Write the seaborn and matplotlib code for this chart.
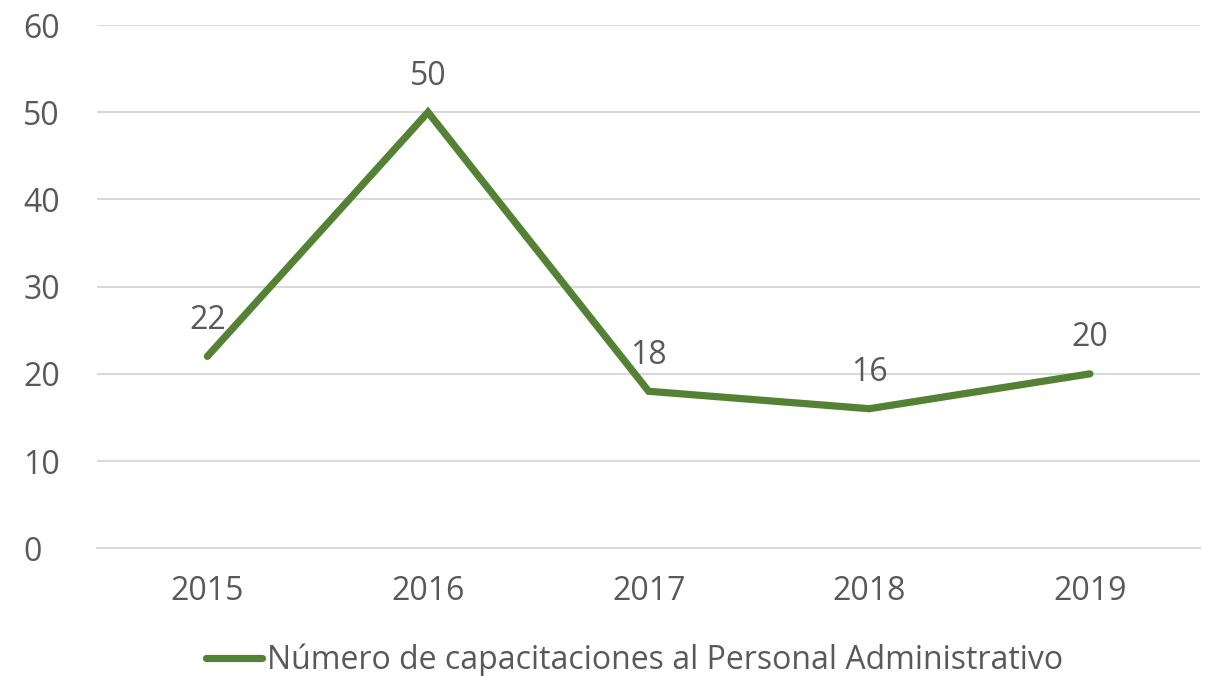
import numpy as np
import pandas as pd
import matplotlib
matplotlib.use('Agg')
import matplotlib.pyplot as plt
import seaborn as sns

years = ['2015', '2016', '2017', '2018', '2019']
values = [22, 50, 18, 16, 20]
series_name = 'Número de capacitaciones al Personal Administrativo'

df = pd.DataFrame({'year': years, 'value': values})
df['pos'] = np.arange(len(years))

sns.set_style('white')
plt.rcParams['font.family'] = ['Open Sans', 'DejaVu Sans']
text_color = '#595959'
green = '#548235'
fs = 23

fig = plt.figure(figsize=(12.07, 6.76), dpi=100)
ax = fig.add_axes([0.0804, 0.189, 0.914, 0.774])

sns.lineplot(data=df, x='pos', y='value', ax=ax, color=green, linewidth=5.2,
             solid_capstyle='round', solid_joinstyle='miter', label=series_name)

for x, y in zip(df['pos'], df['value']):
    ax.annotate(str(y), (x, y), xytext=(0, 14), textcoords='offset points',
                ha='center', va='bottom', fontsize=fs, color=text_color)

ax.set_xlim(-0.5, len(years) - 0.5)
ax.set_ylim(0, 60)
ax.set_yticks(range(0, 61, 10))
ax.set_xticks(df['pos'])
ax.set_xticklabels(years)
ax.yaxis.grid(True, color='#d9d9d9', linewidth=1.5)
ax.set_axisbelow(True)
ax.tick_params(axis='both', length=0, labelsize=fs, labelcolor=text_color)
ax.tick_params(axis='x', pad=19)
ax.tick_params(axis='y', pad=53)
for label in ax.get_yticklabels():
    label.set_horizontalalignment('left')
for s in ['top', 'right', 'left']:
    ax.spines[s].set_visible(False)
ax.spines['bottom'].set_color('#d9d9d9')
ax.spines['bottom'].set_linewidth(1.5)
ax.set_xlabel('')
ax.set_ylabel('')

leg = ax.legend(loc='center', bbox_to_anchor=(0.487, -0.215), frameon=False,
                fontsize=fs, handlelength=1.75, handletextpad=0.15,
                borderpad=0, labelcolor=text_color)

fig.savefig('out.png', dpi=100)
